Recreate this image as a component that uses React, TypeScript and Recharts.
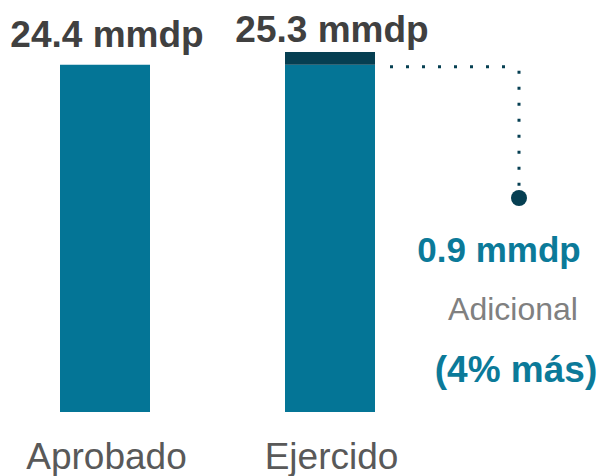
import React from "react"
import { BarChart, Bar, XAxis, YAxis, LabelList } from "recharts"

// chart values
const categories = ["Aprobado", "Ejercido"]
const baseValues = [24.4, 24.4]
const extraValues = [0, 0.9]
const totalLabels = ["24.4 mmdp", "25.3 mmdp"]
const extraLabel = "0.9 mmdp"
const extraCaption = "Adicional"
const extraPercent = "(4% más)"

const data = categories.map((name, i) => ({
  name,
  base: baseValues[i],
  extra: extraValues[i],
  label: totalLabels[i],
}))

const BAR = "#047596"
const DARK = "#063f52"
const TEAL = "#0b7a99"
const FONT = "'Liberation Sans', Arial, sans-serif"

const AxisTick = (props: any) => {
  const { x, y, payload } = props
  return (
    <text x={x + 2} y={y + 49} textAnchor="middle" fontFamily={FONT} fontSize={37} fill="#595959">
      {payload.value}
    </text>
  )
}

// value label above each full bar (drawn on the base segment, lifted by the extra part)
const TotalLabel = (props: any) => {
  const { x, y, width, height, index, value } = props
  const pxPerUnit = height / baseValues[index]
  const top = y - extraValues[index] * pxPerUnit
  const gap = index === 0 ? 18 : 10
  return (
    <text
      x={x + width / 2 + 2}
      y={top - gap}
      textAnchor="middle"
      fontFamily={FONT}
      fontSize={37}
      fontWeight="bold"
      fill="#404040"
    >
      {value}
    </text>
  )
}

// dotted connector + note for the additional amount
const ExtraNote = (props: any) => {
  const { x, y, width, height, value } = props
  if (!value) return null
  const lineY = y + height + 2
  const dotX = x + width + 144
  const dotY = 198
  return (
    <g>
      <line
        x1={x + width + 15}
        y1={lineY}
        x2={dotX - 8}
        y2={lineY}
        stroke={DARK}
        strokeWidth={3}
        strokeDasharray="3 13"
      />
      <line
        x1={dotX}
        y1={lineY + 4}
        x2={dotX}
        y2={dotY - 10}
        stroke={DARK}
        strokeWidth={3}
        strokeDasharray="3 13"
      />
      <circle cx={dotX} cy={dotY} r={8} fill={DARK} />
      <text x={dotX - 20} y={262} textAnchor="middle" fontFamily={FONT} fontSize={35} fontWeight="bold" fill={TEAL}>
        {extraLabel}
      </text>
      <text x={dotX - 6} y={320} textAnchor="middle" fontFamily={FONT} fontSize={32} fill="#808080">
        {extraCaption}
      </text>
      <text x={dotX - 3} y={382} textAnchor="middle" fontFamily={FONT} fontSize={37} fontWeight="bold" fill={TEAL}>
        {extraPercent}
      </text>
    </g>
  )
}

export default function App() {
  return (
    <div style={{ position: "absolute", left: -8, top: 0, width: 607, height: 476 }}>
      <BarChart width={607} height={476} data={data} margin={{ top: 52, right: 157, bottom: 0, left: 0 }}>
        <XAxis dataKey="name" axisLine={false} tickLine={false} height={64} tick={<AxisTick />} interval={0} />
        <YAxis hide domain={[0, 25.3]} />
        <Bar dataKey="base" stackId="a" fill={BAR} barSize={90} isAnimationActive={false}>
          <LabelList dataKey="label" content={<TotalLabel />} />
        </Bar>
        <Bar dataKey="extra" stackId="a" fill={DARK} barSize={90} isAnimationActive={false}>
          <LabelList dataKey="extra" content={<ExtraNote />} />
        </Bar>
      </BarChart>
    </div>
  )
}
